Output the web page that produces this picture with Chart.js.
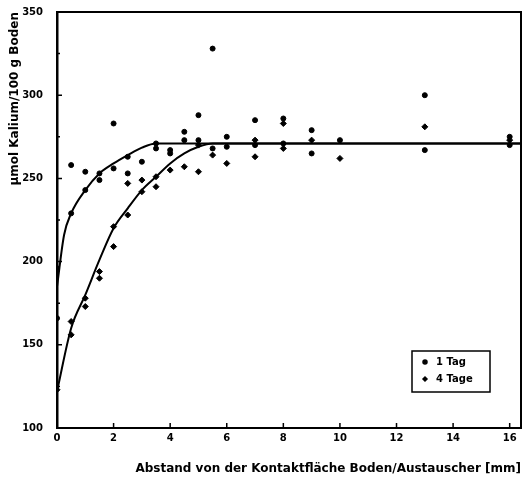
<!DOCTYPE html>
<html>
<head>
<meta charset="utf-8">
<script src="https://cdn.jsdelivr.net/npm/chart.js@4"></script>
<style>
  body { margin: 0; background: #fff; }
  canvas { display: block; }
</style>
</head>
<body>
<canvas id="chart" width="526" height="480"></canvas>
<script>
const tag1X = [0, 0, 0.5, 0.5, 1, 1, 1.5, 1.5, 2, 2, 2.5, 2.5, 3, 3.5, 3.5, 4, 4, 4.5, 4.5, 5, 5, 5.5, 5.5, 6, 6, 7, 7, 8, 8, 9, 9, 10, 13, 13, 16, 16];
const tag1Y = [196, 166, 258, 229, 254, 243, 253, 249, 283, 256, 263, 253, 260, 271, 268, 267, 265, 278, 273, 288, 273, 328, 268, 275, 269, 285, 270, 286, 271, 279, 265, 273, 300, 267, 275, 270];
const tage4X = [0, 0.5, 0.5, 1, 1, 1.5, 1.5, 2, 2, 2.5, 2.5, 3, 3, 3.5, 3.5, 4, 4.5, 5, 5, 5.5, 6, 7, 7, 8, 8, 9, 10, 13, 16];
const tage4Y = [123, 164, 156, 178, 173, 194, 190, 221, 209, 247, 228, 249, 242, 251, 245, 255, 257, 270, 254, 264, 259, 273, 263, 283, 268, 273, 262, 281, 273];

// fitted curves as drawn in the figure
const curve1X = [0, 0.25, 0.5, 1, 1.5, 2, 2.5, 3, 3.5, 16.4];
const curve1Y = [185, 216, 229, 243, 253, 259, 264, 268.5, 271, 271];
const curve4X = [0, 0.5, 1, 1.5, 2, 2.5, 3, 3.5, 4, 4.5, 5, 5.5, 16.4];
const curve4Y = [122, 160, 180, 201, 220, 232, 243, 251, 259, 265, 269, 271, 271];

const xTicks = [0, 2, 4, 6, 8, 10, 12, 14, 16];
const yTicks = [100, 150, 200, 250, 300, 350];
const yMinor = [125, 175, 225, 275, 325];
const labels = ['1 Tag', '4 Tage'];

function pts(xs, ys) {
  return xs.map((x, i) => ({ x: x, y: ys[i] }));
}

Chart.defaults.font.family = 'DejaVu Sans';
Chart.defaults.font.weight = 'bold';
Chart.defaults.font.size = 10;
Chart.defaults.color = '#000';

// frame + inward tick marks
const frame = {
  id: 'frame',
  afterDraw(chart) {
    const ctx = chart.ctx, a = chart.chartArea;
    const xs = chart.scales.x, ys = chart.scales.y;
    ctx.save();
    ctx.strokeStyle = '#000';
    ctx.lineWidth = 2;
    ctx.beginPath();
    ctx.moveTo(a.left, a.top);
    ctx.lineTo(a.right, a.top);
    ctx.lineTo(a.right, a.bottom);
    ctx.stroke();
    ctx.lineWidth = 1.5;
    ctx.beginPath();
    xTicks.forEach(v => {
      const px = xs.getPixelForValue(v);
      ctx.moveTo(px, a.bottom);
      ctx.lineTo(px, a.bottom - 5);
    });
    yTicks.forEach(v => {
      const py = ys.getPixelForValue(v);
      ctx.moveTo(a.left, py);
      ctx.lineTo(a.left + 5, py);
    });
    yMinor.forEach(v => {
      const py = ys.getPixelForValue(v);
      ctx.moveTo(a.left, py);
      ctx.lineTo(a.left + 3, py);
    });
    ctx.stroke();
    ctx.restore();
  }
};

// boxed legend inside the plot, bottom right
const boxLegend = {
  id: 'boxLegend',
  afterDraw(chart) {
    const ctx = chart.ctx, a = chart.chartArea;
    const w = 78, h = 41;
    const x0 = a.right - 31 - w, y0 = a.bottom - 36 - h;
    ctx.save();
    ctx.strokeStyle = '#000';
    ctx.lineWidth = 1.5;
    ctx.strokeRect(x0, y0, w, h);
    ctx.font = 'bold 10px "DejaVu Sans"';
    ctx.fillStyle = '#000';
    ctx.textBaseline = 'middle';
    [0, 1].forEach(i => {
      const ds = chart.data.datasets[i];
      const cy = y0 + 11 + i * 17;
      Chart.helpers.drawPoint(ctx, { pointStyle: ds.pointStyle, radius: 2, borderWidth: 1 }, x0 + 13, cy);
      ctx.fillText(ds.label, x0 + 24, cy);
    });
    ctx.restore();
  }
};

new Chart(document.getElementById('chart'), {
  type: 'scatter',
  data: {
    datasets: [
      { label: labels[0], data: pts(tag1X, tag1Y), pointStyle: 'circle', pointRadius: 2.5,
        backgroundColor: '#000', borderColor: '#000' },
      { label: labels[1], data: pts(tage4X, tage4Y), pointStyle: 'rectRot', pointRadius: 3,
        backgroundColor: '#000', borderColor: '#000' },
      { label: 'fit1', data: pts(curve1X, curve1Y), showLine: true, pointRadius: 0,
        borderColor: '#000', borderWidth: 2, cubicInterpolationMode: 'monotone' },
      { label: 'fit4', data: pts(curve4X, curve4Y), showLine: true, pointRadius: 0,
        borderColor: '#000', borderWidth: 2, cubicInterpolationMode: 'monotone' }
    ]
  },
  options: {
    responsive: false,
    animation: false,
    devicePixelRatio: 1,
    layout: { padding: { top: 10, right: 5, left: 0, bottom: 0 } },
    plugins: { legend: { display: false }, tooltip: { enabled: false } },
    scales: {
      x: {
        type: 'linear', min: 0, max: 16.4,
        afterBuildTicks: s => { s.ticks = xTicks.map(v => ({ value: v })); },
        afterFit: s => { s.height = 52; },
        grid: { display: false, drawTicks: false },
        border: { display: true, color: '#000', width: 2 },
        ticks: { padding: 4, maxRotation: 0, font: { size: 10, weight: 'bold' } },
        title: { display: true, align: 'end', text: 'Abstand von der Kontaktfläche Boden/Austauscher [mm]',
          font: { size: 12, weight: 'bold' }, padding: { top: 0, bottom: 4 } }
      },
      y: {
        type: 'linear', min: 100, max: 350,
        afterBuildTicks: s => { s.ticks = yTicks.map(v => ({ value: v })); },
        afterFit: s => { s.width = 57; },
        grid: { display: false },
        border: { display: true, color: '#000', width: 2.5 },
        ticks: { padding: 6, font: { size: 10, weight: 'bold' } },
        title: { display: true, align: 'end', text: 'µmol Kalium/100 g Boden',
          font: { size: 12, weight: 'bold' }, padding: { top: 8, bottom: 0 } }
      }
    }
  },
  plugins: [frame, boxLegend]
});
</script>
</body>
</html>
